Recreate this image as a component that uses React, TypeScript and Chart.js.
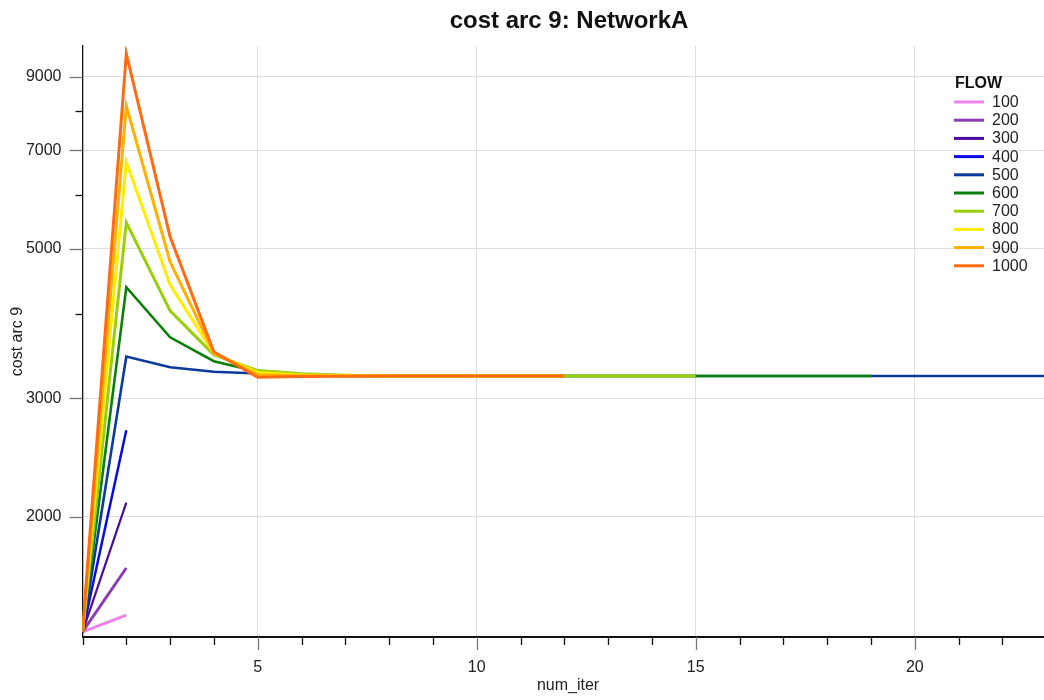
import React, { useEffect, useRef } from "react";
import { Chart, registerables } from "chart.js";

Chart.register(...registerables);

// Iteration numbers on the x axis
const iterations = [1, 2, 3, 4, 5, 6, 7, 8, 9, 10, 11, 12, 13, 14, 15, 16, 17, 18, 19, 20, 21, 22, 23];

// Flow levels (legend entries) and their line colours
const flowLabels = ["100", "200", "300", "400", "500", "600", "700", "800", "900", "1000"];
const flowColors = [
  "#f082ee",
  "#8b3cb4",
  "#4a0a9c",
  "#0a0ae8",
  "#0a3a9c",
  "#0a800a",
  "#9acd0a",
  "#ffec00",
  "#ffb000",
  "#ff6a12",
];
const flowWidths = [3, 3, 2.2, 2.5, 2.6, 2.6, 3, 3, 3, 3];

// Cost of arc 9 per iteration, one array per flow level
const flow100 = [1350, 1430];
const flow200 = [1350, 1680];
const flow300 = [1350, 2100];
const flow400 = [1350, 2690];
const flow500 = [1350, 3460, 3335, 3285, 3265, 3250, 3242, 3238, 3237, 3237, 3237, 3237, 3237, 3237, 3237, 3237, 3237, 3237, 3237, 3237, 3237, 3237, 3237];
const flow600 = [1350, 4385, 3695, 3405, 3285, 3252, 3241, 3238, 3237, 3237, 3237, 3237, 3237, 3237, 3237, 3237, 3237, 3237, 3237];
const flow700 = [1350, 5470, 4045, 3480, 3298, 3262, 3245, 3238, 3237, 3237, 3237, 3237, 3237, 3237, 3237];
const flow800 = [1350, 6730, 4420, 3495, 3278, 3248, 3240, 3237, 3237, 3237, 3237, 3237];
const flow900 = [1350, 8150, 4780, 3505, 3252, 3240, 3238, 3237, 3237, 3237, 3237, 3237];
const flow1000 = [1350, 9740, 5210, 3515, 3223, 3232, 3236, 3237, 3237, 3237, 3237, 3237];

const flowSeries = [flow100, flow200, flow300, flow400, flow500, flow600, flow700, flow800, flow900, flow1000];

// Axis ticks
const yTicks = [2000, 3000, 4000, 5000, 6000, 7000, 8000, 9000];
const yLabelled = [2000, 3000, 5000, 7000, 9000];
const xLabelled = [5, 10, 15, 20];

const chartTitle = "cost arc 9: NetworkA";
const yTitle = "cost arc 9";
const xTitle = "num_iter";
const legendTitle = "FLOW";

const FONT = "'Liberation Sans', Arial, sans-serif";

const decorations = {
  id: "decorations",
  afterDraw(chart: any) {
    const { ctx, chartArea, scales } = chart;
    const xs = scales.x;
    const ys = scales.y;
    ctx.save();

    // tick marks: long grey for labelled values, short black otherwise
    ctx.lineWidth = 1.3;
    for (const v of yTicks) {
      const py = Math.round(ys.getPixelForValue(v)) + 0.5;
      const major = yLabelled.includes(v);
      ctx.strokeStyle = major ? "#777" : "#111";
      ctx.beginPath();
      ctx.moveTo(chartArea.left - (major ? 13 : 7), py);
      ctx.lineTo(chartArea.left, py);
      ctx.stroke();
    }
    for (let i = 0; i < iterations.length - 1; i++) {
      const v = iterations[i];
      const px = Math.round(xs.getPixelForValue(v)) + 0.5;
      const major = xLabelled.includes(v);
      ctx.strokeStyle = major ? "#777" : "#111";
      ctx.beginPath();
      ctx.moveTo(px, chartArea.bottom);
      ctx.lineTo(px, chartArea.bottom + (major ? 13 : 8));
      ctx.stroke();
    }

    // chart title
    ctx.fillStyle = "#111";
    ctx.textAlign = "center";
    ctx.textBaseline = "middle";
    ctx.font = `bold 24px ${FONT}`;
    ctx.fillText(chartTitle, 569, 21);

    // axis titles
    ctx.font = `16px ${FONT}`;
    ctx.fillStyle = "#222";
    ctx.fillText(xTitle, 568, 686);
    ctx.save();
    ctx.translate(18, (chartArea.top + chartArea.bottom) / 2);
    ctx.rotate(-Math.PI / 2);
    ctx.fillText(yTitle, 0, 0);
    ctx.restore();

    // legend
    ctx.textAlign = "left";
    ctx.font = `bold 16px ${FONT}`;
    ctx.fillStyle = "#111";
    ctx.fillText(legendTitle, 955, 84);
    ctx.font = `16px ${FONT}`;
    flowLabels.forEach((label, i) => {
      const y = 102 + i * 18.2;
      ctx.strokeStyle = flowColors[i];
      ctx.lineWidth = 3;
      ctx.beginPath();
      ctx.moveTo(954, y);
      ctx.lineTo(984, y);
      ctx.stroke();
      ctx.fillStyle = "#222";
      ctx.fillText(label, 992, y + 0.5);
    });

    ctx.restore();
  },
};

export default function App() {
  const canvasRef = useRef<HTMLCanvasElement | null>(null);

  useEffect(() => {
    document.body.style.margin = "0";
    const canvas = canvasRef.current;
    if (!canvas) return;

    const datasets = flowSeries.map((series, i) => ({
      label: flowLabels[i],
      data: series.map((v, j) => ({ x: iterations[j], y: v })),
      borderColor: flowColors[i],
      backgroundColor: flowColors[i],
      borderWidth: flowWidths[i],
      pointRadius: 0,
      fill: false,
      tension: 0,
      order: flowLabels.length - i,
    }));

    const chart = new Chart(canvas, {
      type: "line",
      data: { datasets },
      plugins: [decorations],
      options: {
        animation: false,
        responsive: false,
        devicePixelRatio: 1,
        layout: { padding: { top: 46, right: 0, left: 0, bottom: 0 } },
        plugins: {
          legend: { display: false },
          title: { display: false },
          tooltip: { enabled: false },
        },
        scales: {
          x: {
            type: "linear",
            min: 1,
            max: 22.95,
            afterBuildTicks: (scale: any) => {
              scale.ticks = iterations.slice(0, 22).map((v) => ({ value: v }));
            },
            afterFit: (scale: any) => {
              scale.height = 63;
            },
            ticks: {
              autoSkip: false,
              maxRotation: 0,
              padding: 21,
              color: "#222",
              font: { family: FONT, size: 16 },
              callback: (v: any) => (xLabelled.includes(Number(v)) ? String(v) : ""),
            },
            grid: {
              drawTicks: false,
              color: (c: any) => (c.tick && xLabelled.includes(c.tick.value) ? "#dedede" : "rgba(0,0,0,0)"),
              lineWidth: 1,
            },
            border: { display: true, color: "#111", width: 2 },
          },
          y: {
            type: "logarithmic",
            min: 1327,
            max: 10000,
            afterBuildTicks: (scale: any) => {
              scale.ticks = yTicks.map((v) => ({ value: v }));
            },
            afterFit: (scale: any) => {
              scale.width = 82.5;
            },
            ticks: {
              autoSkip: false,
              padding: 21,
              color: "#222",
              font: { family: FONT, size: 16 },
              callback: (v: any) => (yLabelled.includes(Number(v)) ? String(v) : ""),
            },
            grid: {
              drawTicks: false,
              color: (c: any) => (c.tick && yLabelled.includes(c.tick.value) ? "#dedede" : "rgba(0,0,0,0)"),
              lineWidth: 1,
            },
            border: { display: true, color: "#111", width: 1.3 },
          },
        },
      },
    });

    return () => chart.destroy();
  }, []);

  return (
    <div style={{ width: 1044, height: 700 }}>
      <canvas ref={canvasRef} width={1044} height={700} style={{ display: "block" }} />
    </div>
  );
}
